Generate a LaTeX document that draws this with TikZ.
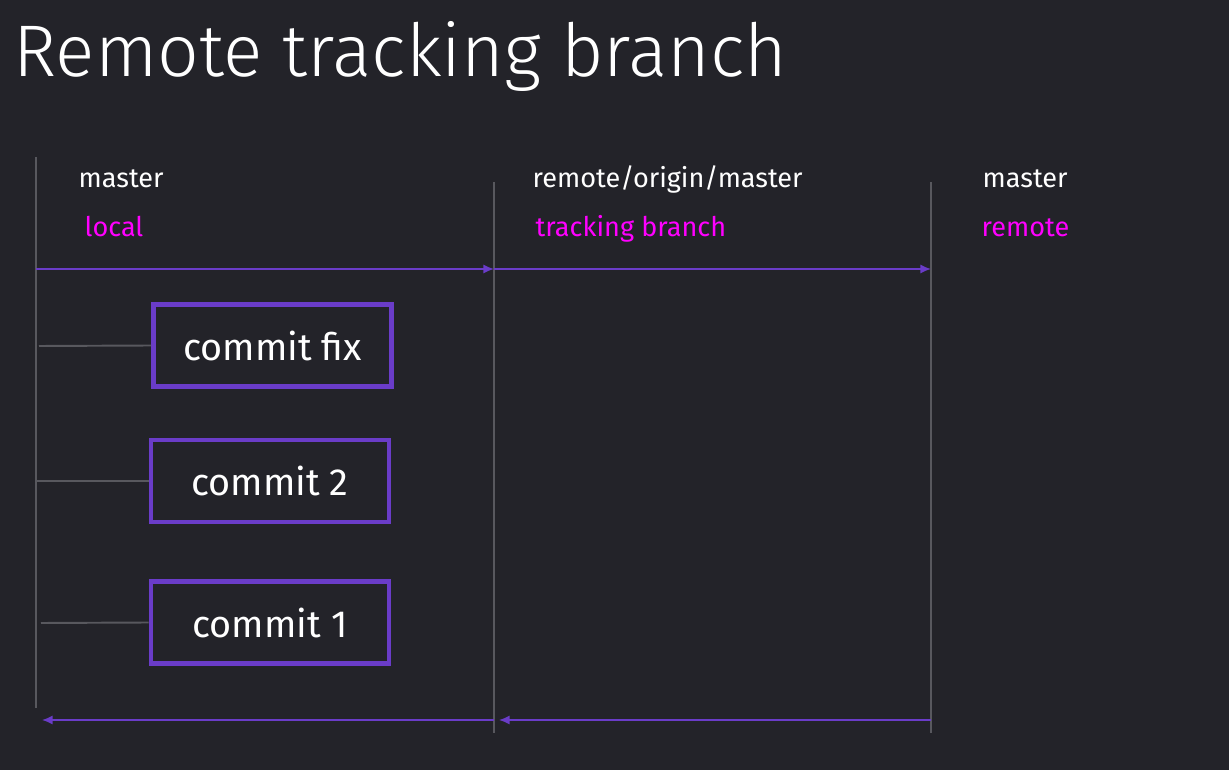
\documentclass[tikz,border=0pt]{standalone}
\usepackage{fontspec}
\setmainfont{Fira Sans}
\newfontfamily\titlefont{Fira Sans Light}
\usetikzlibrary{arrows.meta}

\definecolor{bgdark}{RGB}{35,35,41}
\definecolor{gitpurple}{RGB}{106,60,200}
\definecolor{lanegray}{RGB}{88,88,94}
\definecolor{labelpink}{RGB}{255,0,255}

\tikzset{
  lane/.style={draw=lanegray, line width=0.35pt},
  flow/.style={draw=gitpurple, line width=0.45pt, -{Latex[length=3pt,width=2.6pt]}},
  tie/.style={draw=lanegray, line width=0.55pt},
  commitbox/.style={draw=gitpurple, line width=1.3pt, minimum width=2.38cm,
    minimum height=0.82cm, text=white, font=\fontsize{10.75}{12}\selectfont},
  branchname/.style={anchor=base west, inner sep=0pt, text=white,
    font=\fontsize{7.7}{9}\selectfont},
  branchrole/.style={anchor=base west, inner sep=0pt, text=labelpink,
    font=\fontsize{7.7}{9}\selectfont},
}

\begin{document}
\begin{tikzpicture}[x=0.01cm, y=-0.01cm]
  % Background
    \fill[bgdark] (0,0) rectangle (1229,770);
    \useasboundingbox (0,0) rectangle (1229,770);

  % Title
    \node[anchor=base west, inner sep=0pt, text=white,
      font=\titlefont\fontsize{20.8}{25}\selectfont] (title) at (13,77)
      {Remote tracking branch};

  % Lanes
    \foreach \n/\x/\t/\b in {local/36/157/708, track/494/182/733, remote/931/182/733} {
      \coordinate (\n top) at (\x,\t);
      \coordinate (\n bot) at (\x,\b);
      \draw[lane] (\n top) -- (\n bot);
    }

  % Branch names
    \node[branchname] (namelocal) at (78,188) {master};
    \node[branchname] (nametrack) at (532,188) {remote/origin/master};
    \node[branchname] (nameremote) at (982,188) {master};
    \node[branchrole] (rolelocal) at (84,237) {local};
    \node[branchrole] (roletrack) at (535,237) {tracking branch};
    \node[branchrole] (roleremote) at (981,237) {remote};

  % Push (top)
    \coordinate (pushlocal) at (36,269);
    \coordinate (pushtrack) at (494,269);
    \coordinate (pushremote) at (931,269);
    \draw[flow] (pushlocal) -- (pushtrack);
    \draw[flow] (pushtrack) -- (pushremote);

  % Fetch (bottom)
    \coordinate (fetchremote) at (931,720);
    \coordinate (fetchtrack) at (494,720);
    \coordinate (intrack) at (499,720);
    \coordinate (inlocal) at (42,720);
    \draw[flow] (fetchremote) -- (intrack);
    \draw[flow] (fetchtrack) -- (inlocal);

  % Commits
    \node[commitbox] (commitfix) at (272.5,345.5) {commit fix};
    \node[commitbox] (committwo) at (270,481) {commit 2};
    \node[commitbox] (commitone) at (270,622.5) {commit 1};

  % Ties to the local lane
    \coordinate (tiefix) at (39,346);
    \coordinate (tietwo) at (37,481);
    \coordinate (tieone) at (41,623);
    \draw[tie] (tiefix) -- (commitfix.west);
    \draw[tie] (tietwo) -- (committwo.west);
    \draw[tie] (tieone) -- (commitone.west);

\end{tikzpicture}
\end{document}
